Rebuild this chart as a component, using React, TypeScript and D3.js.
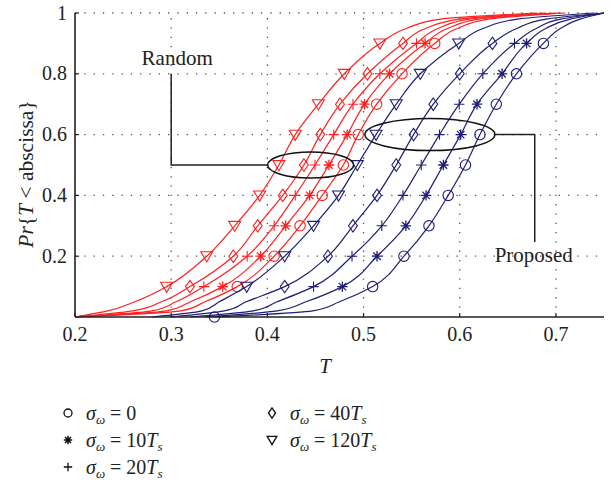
import React from 'react';
import * as d3 from 'd3';

// CDF levels (y) at which the abscissa of each curve was read
const LEVELS = [0, 0.02, 0.05, 0.1, 0.2, 0.3, 0.4, 0.5, 0.6, 0.7, 0.8, 0.9, 0.95, 0.98, 1];
const MARKER_LEVELS = [0.1, 0.2, 0.3, 0.4, 0.5, 0.6, 0.7, 0.8, 0.9];

const SIGMA_LABELS = ['0', '10', '20', '40', '120'];
const SYMBOLS = ['circle', 'star', 'plus', 'diamond', 'triangle'];

// Random (red) curves: x at each LEVEL
const RANDOM_0 = [0.2, 0.31, 0.335, 0.3687, 0.407, 0.434, 0.457, 0.479, 0.4945, 0.5136, 0.540, 0.574, 0.598, 0.63, 0.71];
const RANDOM_10 = [0.2, 0.295, 0.32, 0.3536, 0.393, 0.419, 0.444, 0.464, 0.483, 0.501, 0.527, 0.564, 0.588, 0.62, 0.705];
const RANDOM_20 = [0.2, 0.28, 0.305, 0.334, 0.379, 0.407, 0.429, 0.4495, 0.469, 0.489, 0.517, 0.555, 0.578, 0.61, 0.70];
const RANDOM_40 = [0.2, 0.26, 0.29, 0.3195, 0.3646, 0.390, 0.416, 0.438, 0.455, 0.4755, 0.504, 0.541, 0.565, 0.60, 0.69];
const RANDOM_120 = [0.2, 0.234, 0.262, 0.2953, 0.337, 0.366, 0.392, 0.412, 0.429, 0.453, 0.480, 0.517, 0.545, 0.58, 0.68];

// Proposed (blue) curves
const PROPOSED_0 = [0.345, 0.447, 0.475, 0.5095, 0.542, 0.568, 0.588, 0.606, 0.621, 0.638, 0.659, 0.687, 0.705, 0.725, 0.75];
const PROPOSED_10 = [0.335, 0.41, 0.44, 0.478, 0.514, 0.544, 0.565, 0.583, 0.601, 0.618, 0.644, 0.6695, 0.69, 0.715, 0.75];
const PROPOSED_20 = [0.32, 0.385, 0.41, 0.448, 0.488, 0.519, 0.541, 0.560, 0.579, 0.5995, 0.624, 0.657, 0.68, 0.705, 0.75];
const PROPOSED_40 = [0.30, 0.355, 0.378, 0.418, 0.463, 0.489, 0.514, 0.534, 0.552, 0.5725, 0.600, 0.634, 0.66, 0.69, 0.75];
const PROPOSED_120 = [0.28, 0.332, 0.35, 0.3785, 0.418, 0.448, 0.474, 0.4935, 0.513, 0.534, 0.559, 0.599, 0.625, 0.66, 0.74];

const RANDOM = [RANDOM_0, RANDOM_10, RANDOM_20, RANDOM_40, RANDOM_120];
const PROPOSED = [PROPOSED_0, PROPOSED_10, PROPOSED_20, PROPOSED_40, PROPOSED_120];

const X_TICKS = [0.2, 0.3, 0.4, 0.5, 0.6, 0.7];
const Y_TICKS = [0.2, 0.4, 0.6, 0.8, 1];

const RED = '#ff1f1f';
const BLUE = '#1e1e76';
const FONT = '"Liberation Serif", "Times New Roman", serif';

const W = 615, H = 480;
const M = { left: 75, right: 11, top: 13, bottom: 163 };

function Marker({ type, cx, cy, s, color, sw = 1.1 }: { type: string; cx: number; cy: number; s: number; color: string; sw?: number }) {
  const common = { fill: 'none', stroke: color, strokeWidth: sw };
  if (type === 'circle') return <circle cx={cx} cy={cy} r={s} {...common} />;
  if (type === 'plus') return <path d={`M${cx - s},${cy}H${cx + s}M${cx},${cy - s}V${cy + s}`} {...common} />;
  if (type === 'star') {
    const d = s * 0.72;
    return <path d={`M${cx - s},${cy}H${cx + s}M${cx},${cy - s}V${cy + s}M${cx - d},${cy - d}L${cx + d},${cy + d}M${cx - d},${cy + d}L${cx + d},${cy - d}`} {...common} strokeWidth={sw * 1.2} />;
  }
  if (type === 'diamond') return <path d={`M${cx},${cy - 1.2 * s}L${cx + 0.85 * s},${cy}L${cx},${cy + 1.2 * s}L${cx - 0.85 * s},${cy}Z`} {...common} />;
  // triangle down
  return <path d={`M${cx - 1.15 * s},${cy - 0.85 * s}L${cx + 1.15 * s},${cy - 0.85 * s}L${cx},${cy + 1.1 * s}Z`} {...common} />;
}

export default function App() {
  const x = d3.scaleLinear().domain([0.2, 0.75]).range([M.left, W - M.right]);
  const y = d3.scaleLinear().domain([0, 1]).range([H - M.bottom, M.top]);

  const line = d3.line<[number, number]>()
    .x(d => x(d[0]))
    .y(d => y(d[1]))
    .curve(d3.curveMonotoneY);

  const xAt = (arr: number[], lvl: number) => arr[LEVELS.indexOf(lvl)];

  const renderGroup = (group: number[][], color: string, key: string) => (
    <g key={key}>
      {group.map((arr, i) => (
        <path key={'l' + i} d={line(arr.map((v, j) => [v, LEVELS[j]] as [number, number])) || ''} fill="none" stroke={color} strokeWidth={1.2} />
      ))}
      {group.map((arr, i) =>
        MARKER_LEVELS.map(lv => (
          <Marker key={`m${i}-${lv}`} type={SYMBOLS[i]} cx={x(xAt(arr, lv))} cy={y(lv)} s={5.2} color={color} />
        ))
      )}
    </g>
  );

  const x0 = x.range()[0], x1 = x.range()[1];
  const y0 = y.range()[0], y1 = y.range()[1];

  // annotations
  const rC = { x: 0.445, y: 0.5 }, rRx = 43, rRy = 13;
  const pC = { x: 0.569, y: 0.6 }, pRx = 65, pRy = 16;

  const legendItems = [
    { col: 0, row: 0, i: 0 },
    { col: 0, row: 1, i: 1 },
    { col: 0, row: 2, i: 2 },
    { col: 1, row: 0, i: 3 },
    { col: 1, row: 1, i: 4 },
  ];

  return (
    <svg width={W} height={H} style={{ position: 'absolute', left: 0, top: 0, background: '#fff' }} fontFamily={FONT}>
      {/* grid */}
      <g stroke="#555" strokeWidth={1.3} strokeDasharray="1.3 8">
        {X_TICKS.filter(t => t > 0.2).map(t => (
          <line key={'gx' + t} x1={x(t)} x2={x(t)} y1={y0} y2={y1} />
        ))}
        {Y_TICKS.map(t => (
          <line key={'gy' + t} x1={x0} x2={x1} y1={y(t)} y2={y(t)} />
        ))}
      </g>

      {renderGroup(RANDOM, RED, 'random')}
      {renderGroup(PROPOSED, BLUE, 'proposed')}
      <Marker type="circle" cx={x(PROPOSED_0[0])} cy={y(0)} s={5.2} color={BLUE} />

      {/* axes */}
      <line x1={x0} x2={x0} y1={y0} y2={y1} stroke="#222" strokeWidth={1.6} />
      <line x1={x0} x2={x1} y1={y0} y2={y0} stroke="#222" strokeWidth={1.6} />
      {X_TICKS.map(t => (
        <g key={'tx' + t}>
          <line x1={x(t)} x2={x(t)} y1={y0} y2={y0 - 4} stroke="#222" strokeWidth={1.2} />
          <text x={x(t)} y={y0 + 24} textAnchor="middle" fontSize={20} fill="#222">{t.toFixed(1)}</text>
        </g>
      ))}
      {Y_TICKS.map(t => (
        <g key={'ty' + t}>
          <line x1={x0} x2={x0 + 4} y1={y(t)} y2={y(t)} stroke="#222" strokeWidth={1.2} />
          <text x={x0 - 8} y={y(t) + 6.5} textAnchor="end" fontSize={20} fill="#222">{t === 1 ? '1' : t.toFixed(1)}</text>
        </g>
      ))}

      {/* axis labels */}
      <text x={325} y={373} textAnchor="middle" fontSize={21} fontStyle="italic" fill="#222">T</text>
      <text transform={`translate(33,${(y0 + y1) / 2 + 9}) rotate(-90)`} textAnchor="middle" fontSize={21.5} fill="#222">
        <tspan fontStyle="italic">Pr</tspan>
        <tspan>{'{'}</tspan>
        <tspan fontStyle="italic">T</tspan>
        <tspan>{' < abscissa}'}</tspan>
      </text>

      {/* annotations */}
      <ellipse cx={x(rC.x)} cy={y(rC.y)} rx={rRx} ry={rRy} fill="none" stroke="#111" strokeWidth={1.5} />
      <path d={`M${x(0.3)},${y(0.8)}V${y(rC.y)}H${x(rC.x) - rRx}`} fill="none" stroke="#222" strokeWidth={1.5} />
      <text x={x(0.3) + 6} y={y(0.8) - 9} textAnchor="middle" fontSize={21} fill="#222">Random</text>

      <ellipse cx={x(pC.x)} cy={y(pC.y)} rx={pRx} ry={pRy} fill="none" stroke="#111" strokeWidth={1.5} />
      <path d={`M${x(pC.x) + pRx},${y(pC.y)}H${x(0.678)}V${y(0.247)}`} fill="none" stroke="#222" strokeWidth={1.5} />
      <text x={x(0.678) - 1} y={262} textAnchor="middle" fontSize={21} fill="#222">Proposed</text>

      {/* legend */}
      {legendItems.map(({ col, row, i }) => {
        const sx = col === 0 ? 68 : 272;
        const sy = 413 + row * 27;
        const unit = SIGMA_LABELS[i] !== '0';
        return (
          <g key={'lg' + i}>
            <Marker type={SYMBOLS[i]} cx={sx} cy={sy} s={SYMBOLS[i] === 'circle' ? 4 : 4.2} color="#111" sw={1.3} />
            <text x={sx + 18} y={sy + 7} fontSize={20} fill="#222">
              <tspan fontStyle="italic">σ</tspan>
              <tspan fontStyle="italic" fontSize={13} dy={4}>ω</tspan>
              <tspan dy={-4}>{' = ' + SIGMA_LABELS[i]}</tspan>
              {unit && <tspan fontStyle="italic">T</tspan>}
              {unit && <tspan fontStyle="italic" fontSize={13} dy={4}>s</tspan>}
            </text>
          </g>
        );
      })}
    </svg>
  );
}
